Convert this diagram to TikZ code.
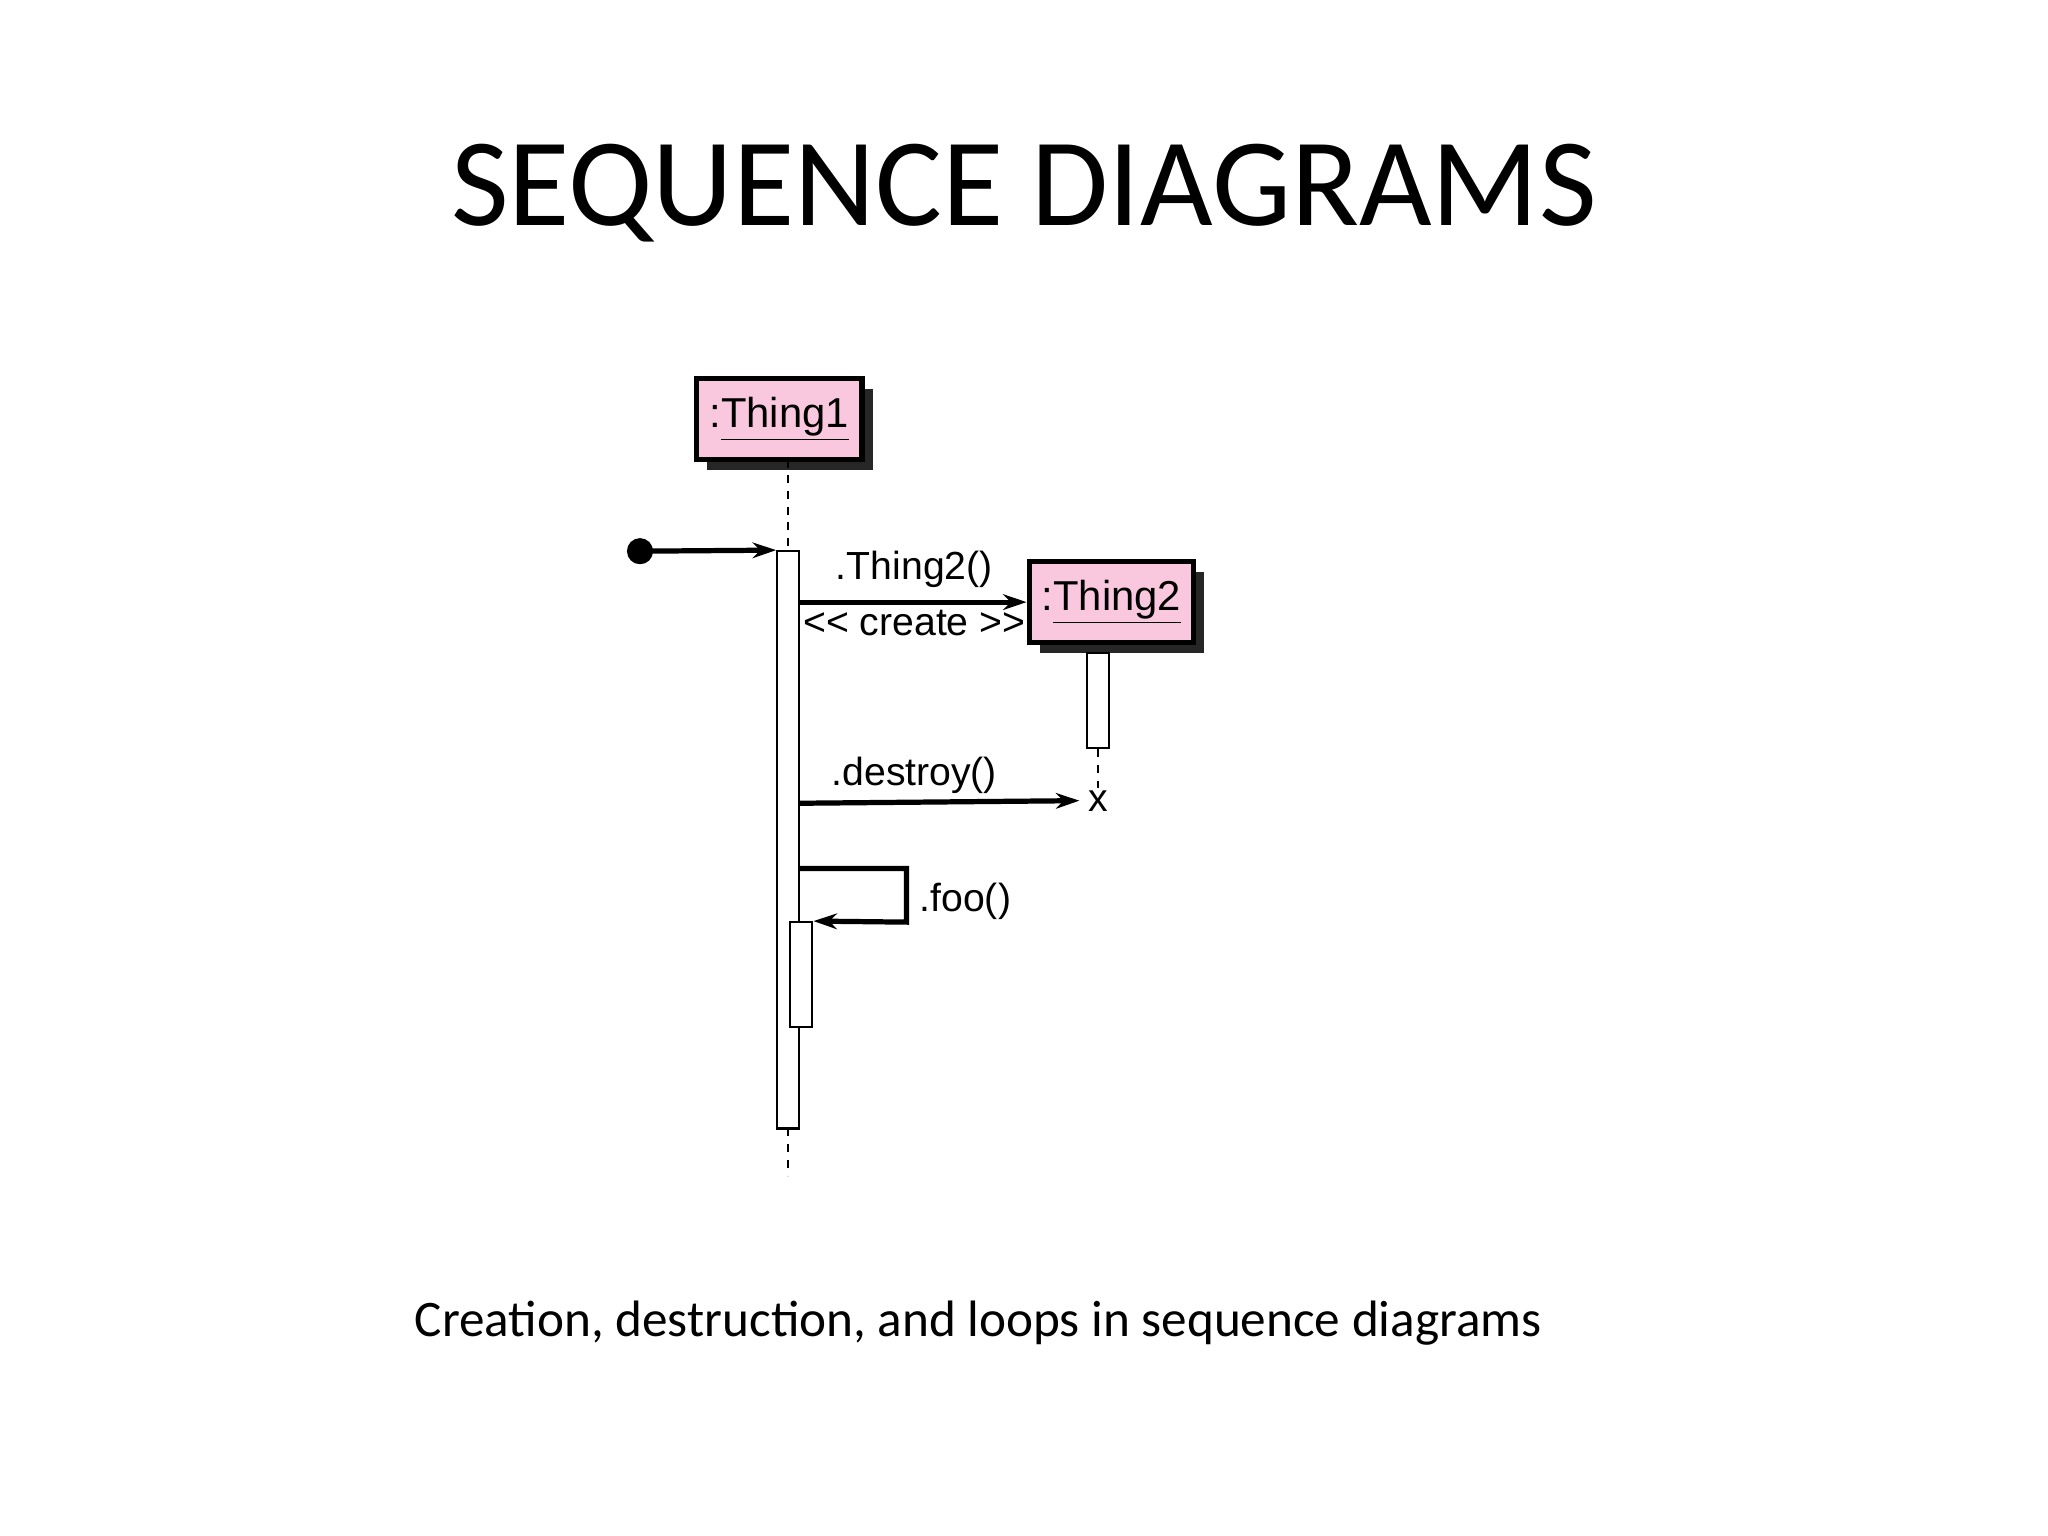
\documentclass[tikz,border=0pt]{standalone}
\usepackage{fontspec}
\setmainfont{Carlito}
\newfontfamily\diag{Liberation Sans}
\usetikzlibrary{arrows.meta}
\definecolor{objpink}{RGB}{250,200,222}
\begin{document}
\begin{tikzpicture}[x=0.5pt,y=-0.5pt,
  obj/.style={draw,line width=2pt,fill=objpink,inner sep=0pt,font=\diag\fontsize{16}{18}\selectfont},
  shad/.style={fill=black!85},
  act/.style={draw,fill=white,line width=0.8pt},
  msg/.style={line width=2pt,-{Stealth[length=9pt,width=6pt]}},
  lbl/.style={font=\diag\fontsize{15}{17}\selectfont},
  life/.style={dashed,line width=0.8pt}]
\useasboundingbox (0,0) rectangle (1568,1176);
\node[font=\fontsize{48}{52}\selectfont] (title) at (784,148) {SEQUENCE DIAGRAMS};
\node[font=\fontsize{19.6}{22}\selectfont] (cap) at (749,1013) {Creation, destruction, and loops in sequence diagrams};
% Thing1
\fill[shad] (541,298) rectangle (668,360);
\node[obj,minimum width=63.5pt,minimum height=31pt] (t1) at (596.5,321) {:\underline{Thing1}};
\draw[life] (603,352) -- (603,422);
\draw[life] (603,864) -- (603,900);
\node[act,minimum width=8.5pt,minimum height=221pt,inner sep=0pt] (a1) at (603.5,643) {};
% start
\fill (490,422) circle (10);
\coordinate (s) at (490,422);
\draw[msg] (s) -- (a1.north west);
% Thing2
\fill[shad] (796,438) rectangle (922,500);
\node[obj,minimum width=63pt,minimum height=31pt] (t2) at (851,461) {:\underline{Thing2}};
\draw[msg] (612,461) -- (t2.west);
\node[lbl] (l1) at (700,436) {.Thing2()};
\node[lbl] (l2) at (700,477) {<< create >>};
\node[act,minimum width=8.5pt,minimum height=36.5pt,inner sep=0pt] (a2) at (840.5,536.5) {};
\draw[life] (a2.south) -- (840.5,603);
\node[lbl] (x) at (841,613) {x};
\draw[msg] (612,615) -- (x.west);
\node[lbl] (l3) at (700,594) {.destroy()};
% foo
\node[act,minimum width=8.5pt,minimum height=40pt,inner sep=0pt] (a3) at (613.5,746) {};
\draw[msg] (612,665) -- (694,665) -- (694,706) -- (a3.north east);
\node[lbl,anchor=west] (l4) at (697,690) {.foo()};
\end{tikzpicture}
\end{document}
